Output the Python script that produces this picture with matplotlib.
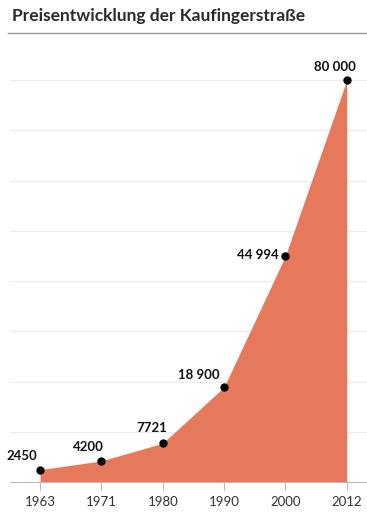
import matplotlib
matplotlib.use("Agg")
import matplotlib.pyplot as plt
from matplotlib.lines import Line2D
import numpy as np

# Daten
years = ["1963", "1971", "1980", "1990", "2000", "2012"]
prices = [2450, 4200, 7721, 18900, 44994, 80000]
labels = ["2450", "4200", "7721", "18 900", "44 994", "80 000"]
# Position der Beschriftung relativ zum Punkt (Pixel) und Ausrichtung
label_offsets = [(-18, 14), (-13, 14), (-11, 15), (-4, 12), (-7, 1), (-12, 13)]
label_ha = ["center", "center", "center", "right", "right", "center"]

plt.rcParams['font.family'] = ['Lato', 'DejaVu Sans']

W, H = 367, 515
fig = plt.figure(figsize=(W / 100, H / 100), dpi=100)
fig.patch.set_facecolor("white")

# Titel
fig.text(12 / W, 1 - 16 / H, "Preisentwicklung der Kaufingerstraße",
         fontsize=12.5, color="#2b2b2b", ha="left", va="center",
         fontweight="bold")
fig.add_artist(Line2D([8 / W, 1.0], [1 - 33 / H, 1 - 33 / H],
                      color="#9a9a9a", lw=1.0))

ax = fig.add_axes([10 / W, 33 / H, 357 / W, (482 - 60) / H])
x = np.arange(len(years))

ax.fill_between(x, prices, 0, color="#E6795B", lw=0, zorder=2)
ax.plot(x, prices, "o", color="black", ms=5, zorder=4)

for xi, yi, lab, off, ha in zip(x, prices, labels, label_offsets, label_ha):
    ax.annotate(lab, (xi, yi), xytext=off, textcoords="offset pixels",
                ha=ha, va="center", fontsize=9.5, fontweight="bold",
                color="#111111", zorder=5)

ax.set_xlim(-0.49, 5.33)
ax.set_ylim(0, 84000)
ax.set_yticks(np.arange(10000, 80001, 10000))
ax.yaxis.grid(True, color="#ececec", lw=0.8, zorder=0)
ax.tick_params(axis="y", left=False, labelleft=False)

ax.set_xticks(x)
ax.set_xticklabels(years, fontsize=9.5, color="#333333")
ax.tick_params(axis="x", length=6, color="#bbbbbb", width=0.8, pad=4)

for s in ["top", "right", "left"]:
    ax.spines[s].set_visible(False)
ax.spines["bottom"].set_color("#bbbbbb")
ax.spines["bottom"].set_linewidth(0.8)
ax.set_facecolor("white")

fig.savefig("out.png", dpi=100)
